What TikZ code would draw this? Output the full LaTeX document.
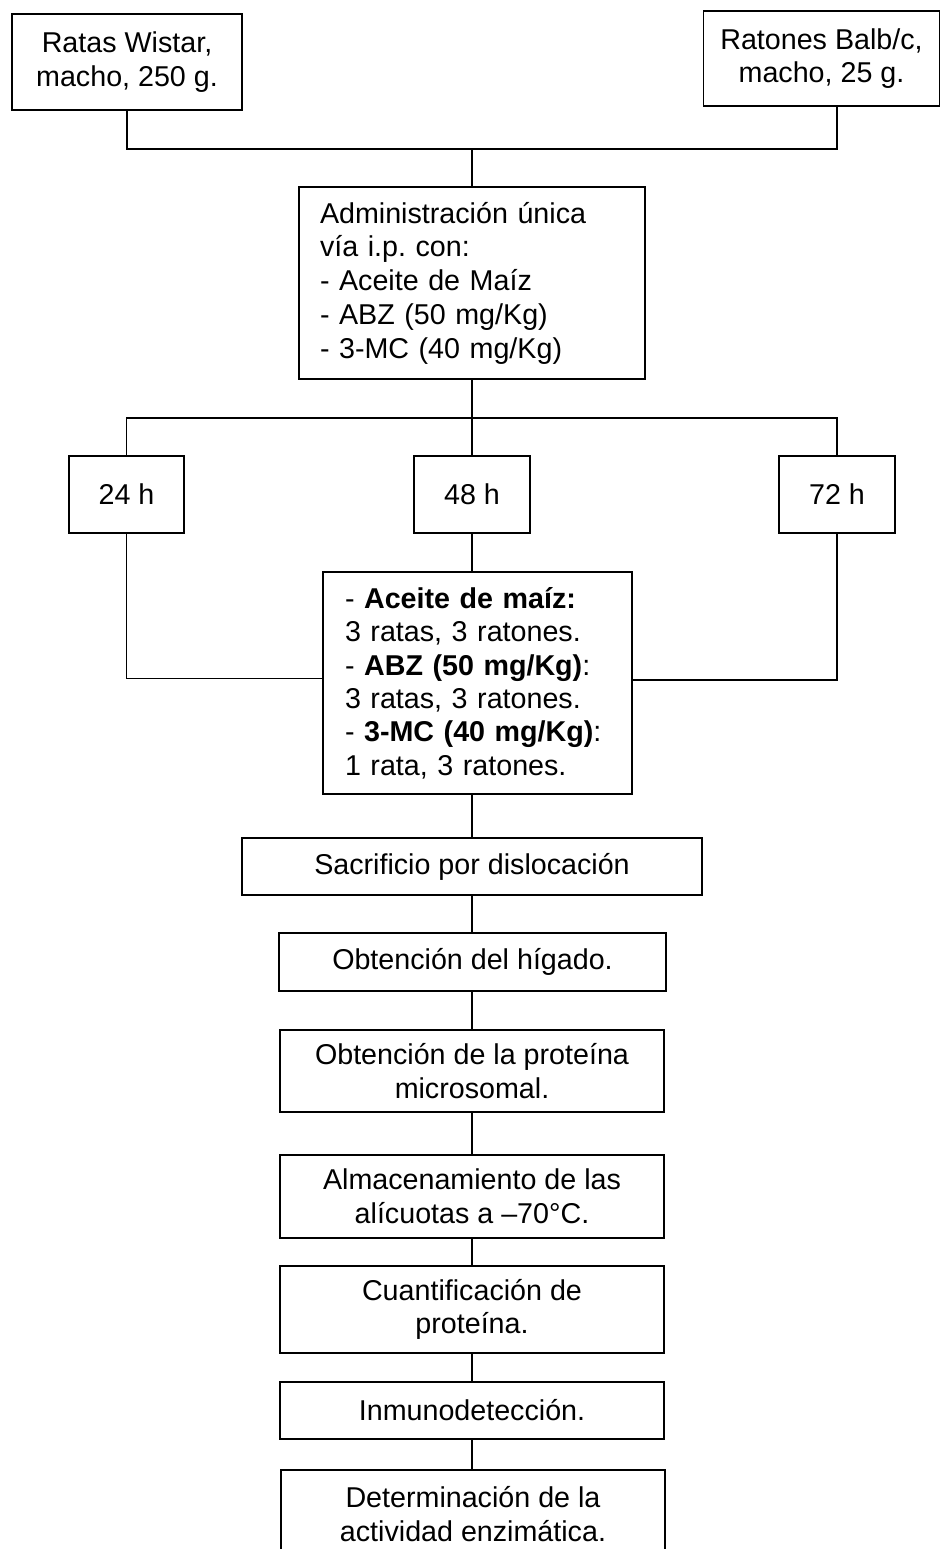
\documentclass[tikz,border=0pt]{standalone}
\usepackage{fontspec}
\setmainfont{Liberation Sans}
\begin{document}
\frenchspacing
\begin{tikzpicture}[x=0.75pt,y=-0.75pt,
  every node/.style={font=\fontsize{21.5pt}{25.3pt}\selectfont},
  box/.style={draw=black,line width=1.3pt,rectangle,inner sep=0pt,align=center},
  sz/.style 2 args={minimum width={#1*0.75pt},minimum height={#2*0.75pt}},
  lbox/.style 2 args={draw=black,line width=1.3pt,rectangle,inner xsep=#2*0.75pt,inner ysep=0pt,align=left,text width={(#1-2*#2)*0.75pt}},
  conn/.style={draw=black,line width=1pt}]
\clip (0,0) rectangle (941,1549);
\useasboundingbox (0,0) rectangle (941,1549);
\fill[white] (0,0) rectangle (941,1549);

\node[box,sz={230}{96}] (rat) at (127,62) {Ratas Wistar,\\macho, 250 g.};
\node[box,sz={236}{95}] (mouse) at (821.5,58.5) {Ratones Balb/c,\\macho, 25 g.};
\node[lbox={346}{21},minimum height={192*0.75pt}] (admin) at (472,283) {\frenchspacing Administración única\\vía i.p. con:\\- Aceite de Maíz\\- ABZ (50 mg/Kg)\\- 3-MC (40 mg/Kg)};
\node[box,sz={115}{77}] (t24) at (126.5,494.5) {24 h};
\node[box,sz={116}{77}] (t48) at (472,494.5) {48 h};
\node[box,sz={116}{77}] (t72) at (837,494.5) {72 h};
\node[lbox={309}{22},minimum height={222*0.75pt},font=\fontsize{21.5pt}{25pt}\selectfont] (groups) at (477.5,683) {\frenchspacing - \textbf{Aceite de maíz:}\\3 ratas, 3 ratones.\\- \textbf{ABZ (50 mg/Kg)}:\\3 ratas, 3 ratones.\\- \textbf{3-MC (40 mg/Kg)}:\\1 rata, 3 ratones.};
\node[box,sz={460}{57}] (sacr) at (472,866.5) {Sacrificio por dislocación};
\node[box,sz={387}{58}] (liver) at (472.5,962) {Obtención del hígado.};
\node[box,sz={384}{82}] (prot) at (472,1071) {Obtención de la proteína\\microsomal.};
\node[box,sz={384}{83}] (alm) at (472,1196.5) {Almacenamiento de las\\alícuotas a –70°C.};
\node[box,sz={384}{87}] (cuant) at (472,1309.5) {Cuantificación de\\proteína.};
\node[box,sz={384}{57}] (inmuno) at (472,1410.5) {Inmunodetección.};
\node[box,sz={384}{88}] (det) at (473,1514) {Determinación de la\\actividad enzimática.};

\coordinate (j1) at (472,149);
\coordinate (j2) at (472,418);

\draw[conn] (rat.south) |- (j1);
\draw[conn] (mouse.south -| t72) |- (j1);
\draw[conn] (j1) -- (admin.north -| j1);
\draw[conn] (admin.south -| j2) -- (j2);
\draw[conn] (t24.north) |- (j2);
\draw[conn] (t72.north) |- (j2);
\draw[conn] (j2) -- (t48.north);
\draw[conn] (t24.south) |- ([yshift=3.5pt]groups.west);
\draw[conn] (t72.south) |- ([yshift=2.2pt]groups.east);
\draw[conn] (t48.south) -- (t48.south |- groups.north);
\draw[conn] (sacr.north |- groups.south) -- (sacr.north);
\draw[conn] (sacr.south) -- (sacr.south |- liver.north);
\draw[conn] (prot.north |- liver.south) -- (prot.north);
\draw[conn] (prot.south) -- (alm.north);
\draw[conn] (alm.south) -- (cuant.north);
\draw[conn] (cuant.south) -- (inmuno.north);
\draw[conn] (inmuno.south) -- (inmuno.south |- det.north);
\end{tikzpicture}
\end{document}
